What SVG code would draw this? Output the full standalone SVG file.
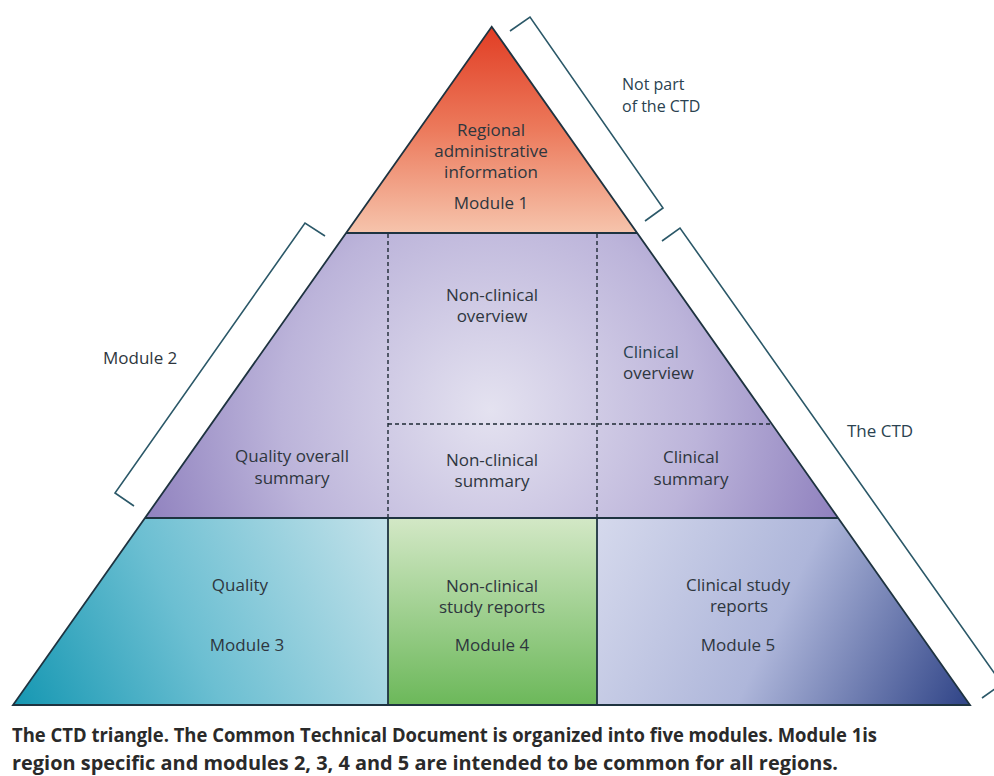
<svg xmlns="http://www.w3.org/2000/svg" width="994" height="776" viewBox="0 0 994 776">
<defs>
<linearGradient id="g1" x1="0" y1="0" x2="0" y2="1">
<stop offset="0" stop-color="#e13d24"/>
<stop offset="0.5" stop-color="#ec7a5c"/>
<stop offset="1" stop-color="#f6c4ac"/>
</linearGradient>
<radialGradient id="g2" cx="490" cy="410" r="380" gradientUnits="userSpaceOnUse">
<stop offset="0" stop-color="#e4e2f0"/>
<stop offset="0.55" stop-color="#bcb4da"/>
<stop offset="1" stop-color="#8a7bbb"/>
</radialGradient>
<linearGradient id="g3" x1="13" y1="705" x2="388" y2="518" gradientUnits="userSpaceOnUse">
<stop offset="0" stop-color="#1597b2"/>
<stop offset="0.45" stop-color="#6cbfd2"/>
<stop offset="1" stop-color="#c4e2ea"/>
</linearGradient>
<linearGradient id="g4" x1="0" y1="0" x2="0" y2="1">
<stop offset="0" stop-color="#d3e8c6"/>
<stop offset="1" stop-color="#6cb85a"/>
</linearGradient>
<linearGradient id="g5" x1="597" y1="530" x2="960" y2="705" gradientUnits="userSpaceOnUse">
<stop offset="0" stop-color="#d4d8ec"/>
<stop offset="0.5" stop-color="#aeb6da"/>
<stop offset="1" stop-color="#34488a"/>
</linearGradient>
<style>
.t{font-family:"Open Sans","Liberation Sans",sans-serif;font-size:17px;fill:#2e363e;text-anchor:middle}
.tl{font-family:"Open Sans","Liberation Sans",sans-serif;font-size:17px;fill:#2a4250}
.sm{font-size:16px}
.edge{fill:none;stroke:#1e3340;stroke-width:1.8}
.dash{fill:none;stroke:#1e2a35;stroke-width:1.4;stroke-dasharray:4 3}
.br{fill:none;stroke:#2b5868;stroke-width:1.6}
.cap{font-family:"Open Sans","Liberation Sans",sans-serif;font-size:19px;font-weight:bold;fill:#2a2a2a}
</style>
</defs>
<rect width="994" height="776" fill="#ffffff"/>

<g id="module1">
<polygon points="491.7,26.7 637,233 346,233" fill="url(#g1)"/>
<text class="t" x="491" y="136">Regional</text>
<text class="t" x="491" y="157">administrative</text>
<text class="t" x="491" y="178">information</text>
<text class="t" x="491" y="209">Module 1</text>
</g>

<g id="module2">
<polygon points="346,233 637,233 838,518 145,518" fill="url(#g2)"/>
</g>

<g id="quality-overall-summary">
<text class="t" x="292" y="462">Quality overall</text>
<text class="t" x="292" y="484">summary</text>
</g>
<g id="nonclinical-overview">
<text class="t" x="492" y="301">Non-clinical</text>
<text class="t" x="492" y="322">overview</text>
</g>
<g id="clinical-overview">
<text class="tl" x="623" y="358">Clinical</text>
<text class="tl" x="623" y="379" style="fill:#2e363e">overview</text>
</g>
<g id="nonclinical-summary">
<text class="t" x="492" y="466">Non-clinical</text>
<text class="t" x="492" y="487">summary</text>
</g>
<g id="clinical-summary">
<text class="t" x="691" y="463">Clinical</text>
<text class="t" x="691" y="485">summary</text>
</g>

<g id="module3">
<polygon points="145,518 388,518 388,705 13,705" fill="url(#g3)"/>
<text class="t" x="240" y="591">Quality</text>
<text class="t" x="247" y="651">Module 3</text>
</g>

<g id="module4">
<rect x="388" y="518" width="209" height="187" fill="url(#g4)"/>
<text class="t" x="492" y="592">Non-clinical</text>
<text class="t" x="492" y="613">study reports</text>
<text class="t" x="492" y="651">Module 4</text>
</g>

<g id="module5">
<polygon points="597,518 838,518 970,705 597,705" fill="url(#g5)"/>
<text class="t" x="738" y="591">Clinical study</text>
<text class="t" x="739" y="612">reports</text>
<text class="t" x="738" y="651">Module 5</text>
</g>

<g id="connectors">
<polygon class="edge" points="491.7,26.7 970,705 13,705"/>
<line class="edge" x1="346" y1="233" x2="637" y2="233"/>
<line class="edge" x1="145" y1="518" x2="838" y2="518"/>
<line class="edge" x1="388" y1="518" x2="388" y2="705"/>
<line class="edge" x1="597" y1="518" x2="597" y2="705"/>
<line class="dash" x1="388" y1="234" x2="388" y2="517"/>
<line class="dash" x1="597" y1="234" x2="597" y2="517"/>
<line class="dash" x1="388" y1="424" x2="772" y2="424"/>
<polyline class="br" points="510,31 530,17 663,208 645,221"/>
<polyline class="br" points="662,241 680,228 1002,684 982,698"/>
<polyline class="br" points="325,236 305,223 115,493 134,506"/>
</g>

<g id="bracket-labels">
<text class="tl sm" x="622" y="90">Not part</text>
<text class="tl sm" x="622" y="112">of the CTD</text>
<text class="tl" x="103" y="364" style="fill:#2e363e">Module 2</text>
<text class="tl" x="847" y="437">The CTD</text>
</g>

<g id="caption">
<text class="cap" x="12" y="742" textLength="865" lengthAdjust="spacingAndGlyphs">The CTD triangle. The Common Technical Document is organized into five modules. Module 1is</text>
<text class="cap" x="12" y="770" textLength="826" lengthAdjust="spacingAndGlyphs">region specific and modules 2, 3, 4 and 5 are intended to be common for all regions.</text>
</g>
</svg>
